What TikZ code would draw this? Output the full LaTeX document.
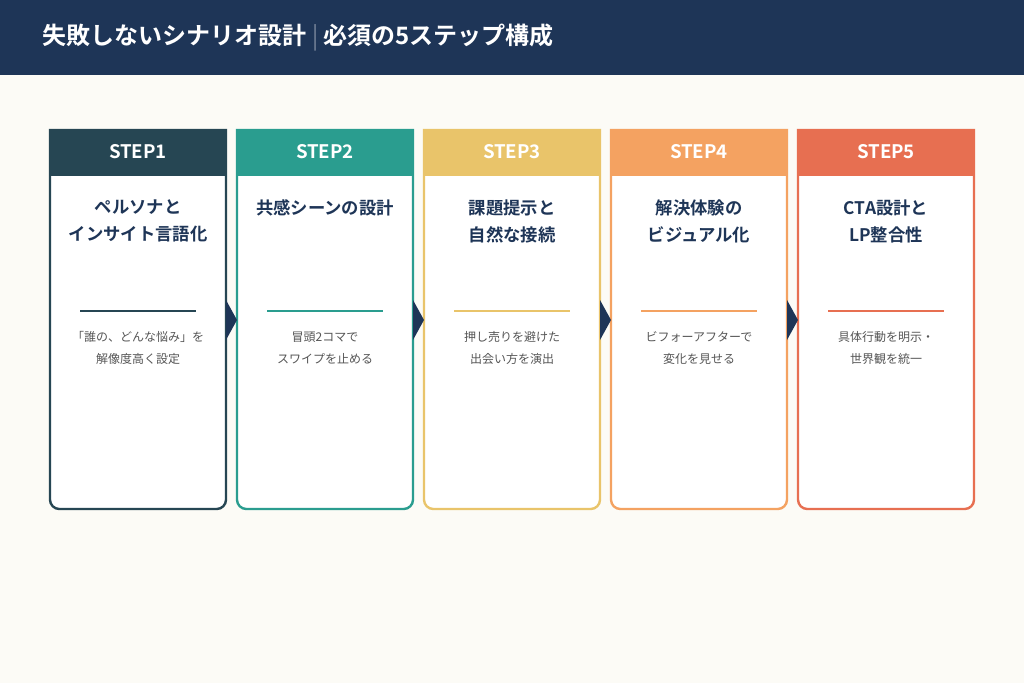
\documentclass[tikz,border=0pt]{standalone}
\usepackage{fontspec}
\setmainfont{Noto Sans CJK JP}
\newfontfamily\jpbold{Noto Sans CJK JP Bold}
\definecolor{navy}{HTML}{1E3557}
\definecolor{paper}{HTML}{FCFBF6}
\definecolor{bodygray}{HTML}{555555}
\definecolor{cA}{HTML}{264653}
\definecolor{cB}{HTML}{2A9D8F}
\definecolor{cC}{HTML}{E9C46A}
\definecolor{cD}{HTML}{F4A261}
\definecolor{cE}{HTML}{E76F51}
\begin{document}
\begin{tikzpicture}[x=0.75pt,y=-0.75pt,
    steplabel/.style={text=white, font=\jpbold\fontsize{14}{16}\selectfont},
    cardtitle/.style={text=navy, align=center, font=\jpbold\fontsize{13}{20}\selectfont},
    cardbody/.style={text=bodygray, align=center, font=\fontsize{9}{16.5}\selectfont},
    flow/.style={fill=navy, draw=none}]
    \fill[paper] (0,0) rectangle (1024,683);
    \fill[navy] (0,0) rectangle (1024,75);
    \node[anchor=west, text=white, font=\jpbold\fontsize{18}{20}\selectfont] (head) at (38,38)
      {失敗しないシナリオ設計\hspace{4pt}\textcolor{white!55!navy}{\fontspec{Noto Sans CJK JP Light}|}\hspace{4pt}必須の5ステップ構成};
    \foreach \i/\c/\t/\b in {
      0/cA/{ペルソナと\\インサイト言語化}/{「誰の、どんな悩み」を\\解像度高く設定},
      1/cB/{共感シーンの設計}/{冒頭2コマで\\スワイプを止める},
      2/cC/{課題提示と\\自然な接続}/{押し売りを避けた\\出会い方を演出},
      3/cD/{解決体験の\\ビジュアル化}/{ビフォーアフターで\\変化を見せる},
      4/cE/{CTA設計と\\LP整合性}/{具体行動を明示・\\世界観を統一}} {
      \pgfmathsetmacro\x{50+187*\i}
      \draw[\c, line width=1.8pt, fill=white] (\x,130) [rounded corners=7] -- (\x,509)
        -- (\x+176,509) [sharp corners] -- (\x+176,130) -- cycle;
      \fill[\c] (\x-0.9,129) rectangle (\x+176.9,176);
      \pgfmathtruncatemacro\n{\i+1}
      \node[steplabel] (step\n) at (\x+88,152) {STEP\n};
      \node[cardtitle, anchor=north] (title\n) at (\x+88,195) {\t};
      \draw[\c, line width=1.5pt] (\x+30,311) -- (\x+146,311);
      \node[cardbody] (body\n) at (\x+88,348) {\b};
    }
    \foreach \i in {0,...,3} {
      \pgfmathsetmacro\x{226+187*\i}
      \fill[flow] (\x,300) -- (\x+11,320) -- (\x,340) -- cycle;
    }
\end{tikzpicture}
\end{document}
